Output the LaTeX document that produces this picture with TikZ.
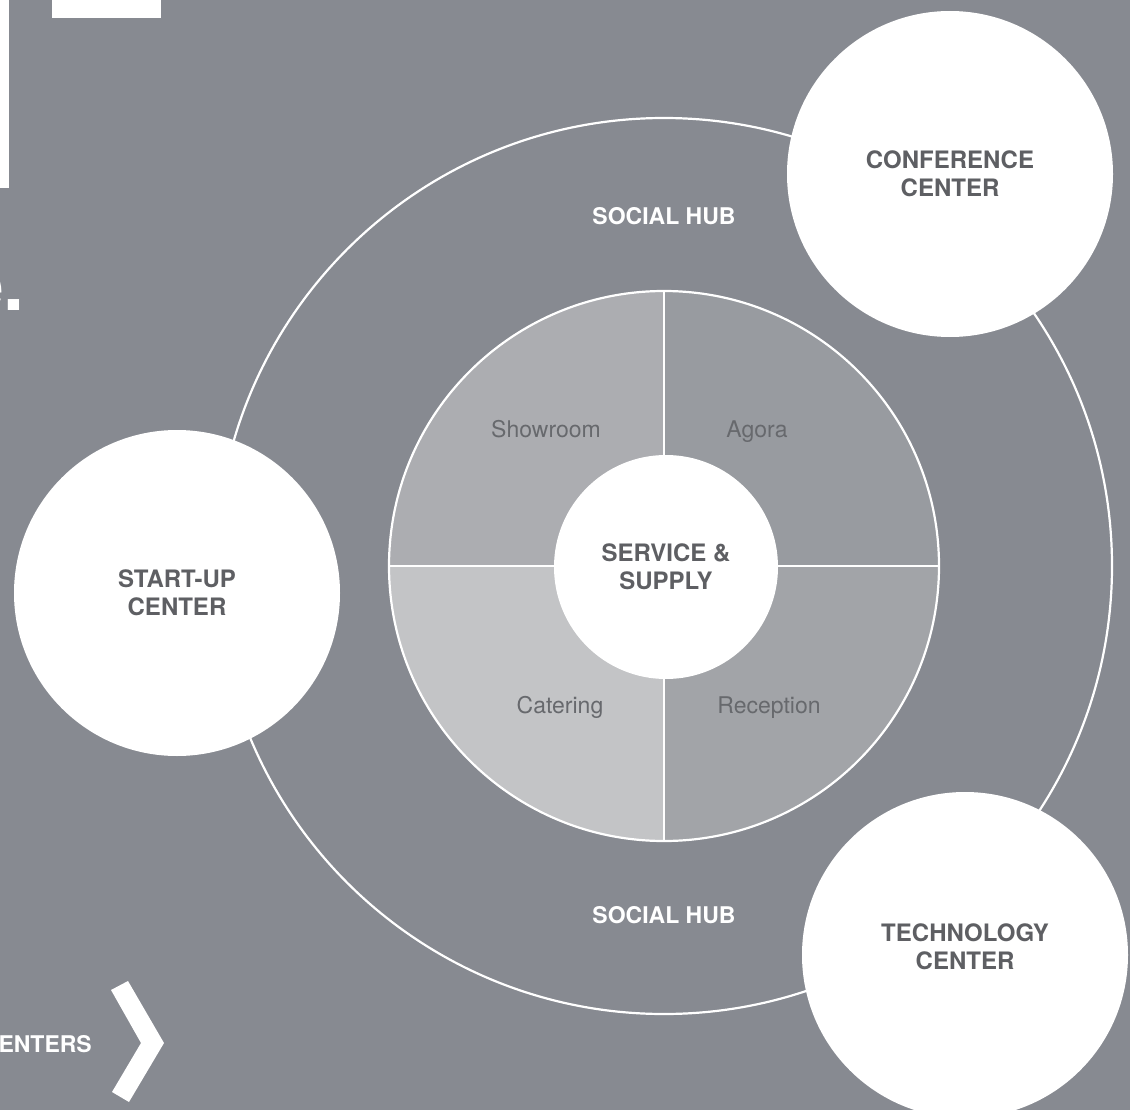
\documentclass[tikz,border=0pt]{standalone}
\usepackage{fontspec}
\setmainfont{TeX Gyre Heros}
\usepackage{tikz}
\definecolor{slate}{HTML}{878A91}
\definecolor{roomA}{HTML}{ACADB1}
\definecolor{roomB}{HTML}{989BA0}
\definecolor{roomC}{HTML}{C3C4C6}
\definecolor{roomD}{HTML}{A2A4A8}
\definecolor{inktext}{HTML}{5E5F63}
\definecolor{roomtext}{HTML}{67696D}
\tikzset{
  unit/.style={circle, fill=white, inner sep=0pt, minimum size=326pt, align=center,
    text=inktext, font=\bfseries\fontsize{24}{28}\selectfont},
  hublabel/.style={anchor=base, text=white, font=\bfseries\fontsize{23}{28}\selectfont},
  roomlabel/.style={anchor=base, text=roomtext, font=\fontsize{23}{28}\selectfont},
  ring/.style={draw=white, line width=2.2pt}
}

\begin{document}
\begin{tikzpicture}[x=1pt, y=-1pt]
  \fill[slate] (0,0) rectangle (1130,1110);
  \useasboundingbox (0,0) rectangle (1130,1110);

  % cut-off title pieces
  \fill[white] (0,0) rectangle (9,188);
  \fill[white] (52,0) rectangle (161,18);
  \node[anchor=base east, inner sep=0pt, text=white, font=\bfseries\fontsize{75}{75}\selectfont] (title) at (25,310) {e.};

  \coordinate (hub) at (664,566);
  \draw[ring] (hub) circle (448pt);

  % four rooms
  \fill[roomB] (hub) -- ++(0:275pt) arc[start angle=0, end angle=90, radius=275pt] -- cycle;
  \fill[roomA] (hub) -- ++(90:275pt) arc[start angle=90, end angle=180, radius=275pt] -- cycle;
  \fill[roomC] (hub) -- ++(180:275pt) arc[start angle=180, end angle=270, radius=275pt] -- cycle;
  \fill[roomD] (hub) -- ++(270:275pt) arc[start angle=270, end angle=360, radius=275pt] -- cycle;
  \draw[white, line width=1.5pt] (hub) ++(90:275pt) coordinate (n) -- ++(270:550pt) coordinate (s);
  \draw[white, line width=1.5pt] (hub) ++(180:275pt) coordinate (w) -- ++(0:550pt) coordinate (e);
  \draw[ring] (hub) circle (275pt);

  \node[roomlabel] (showroom) at (546,437) {Showroom};
  \node[roomlabel] (agora) at (757,437) {Agora};
  \node[roomlabel] (catering) at (560,713) {Catering};
  \node[roomlabel] (reception) at (769,713) {Reception};

  \node[hublabel] (hubtop) at (664,225) {SOCIAL HUB};
  \node[hublabel] (hubbottom) at (664,923) {SOCIAL HUB};

  \node[unit, minimum size=224pt] (service) at (666,567) {SERVICE \&\\SUPPLY};
  \node[unit] (startup) at (177,593) {START-UP\\CENTER};
  \node[unit] (conference) at (950,174) {CONFERENCE\\CENTER};
  \node[unit] (technology) at (965,955) {TECHNOLOGY\\CENTER\\[-12pt]};

  % link to centers
  \node[hublabel, anchor=base east, inner sep=0pt] (centers) at (92,1052) {ENTERS};
  \fill[white] (111,990) -- (128,981) -- (164,1043) -- (129,1102) -- (112,1092) -- (141,1043) -- cycle;
\end{tikzpicture}
\end{document}
